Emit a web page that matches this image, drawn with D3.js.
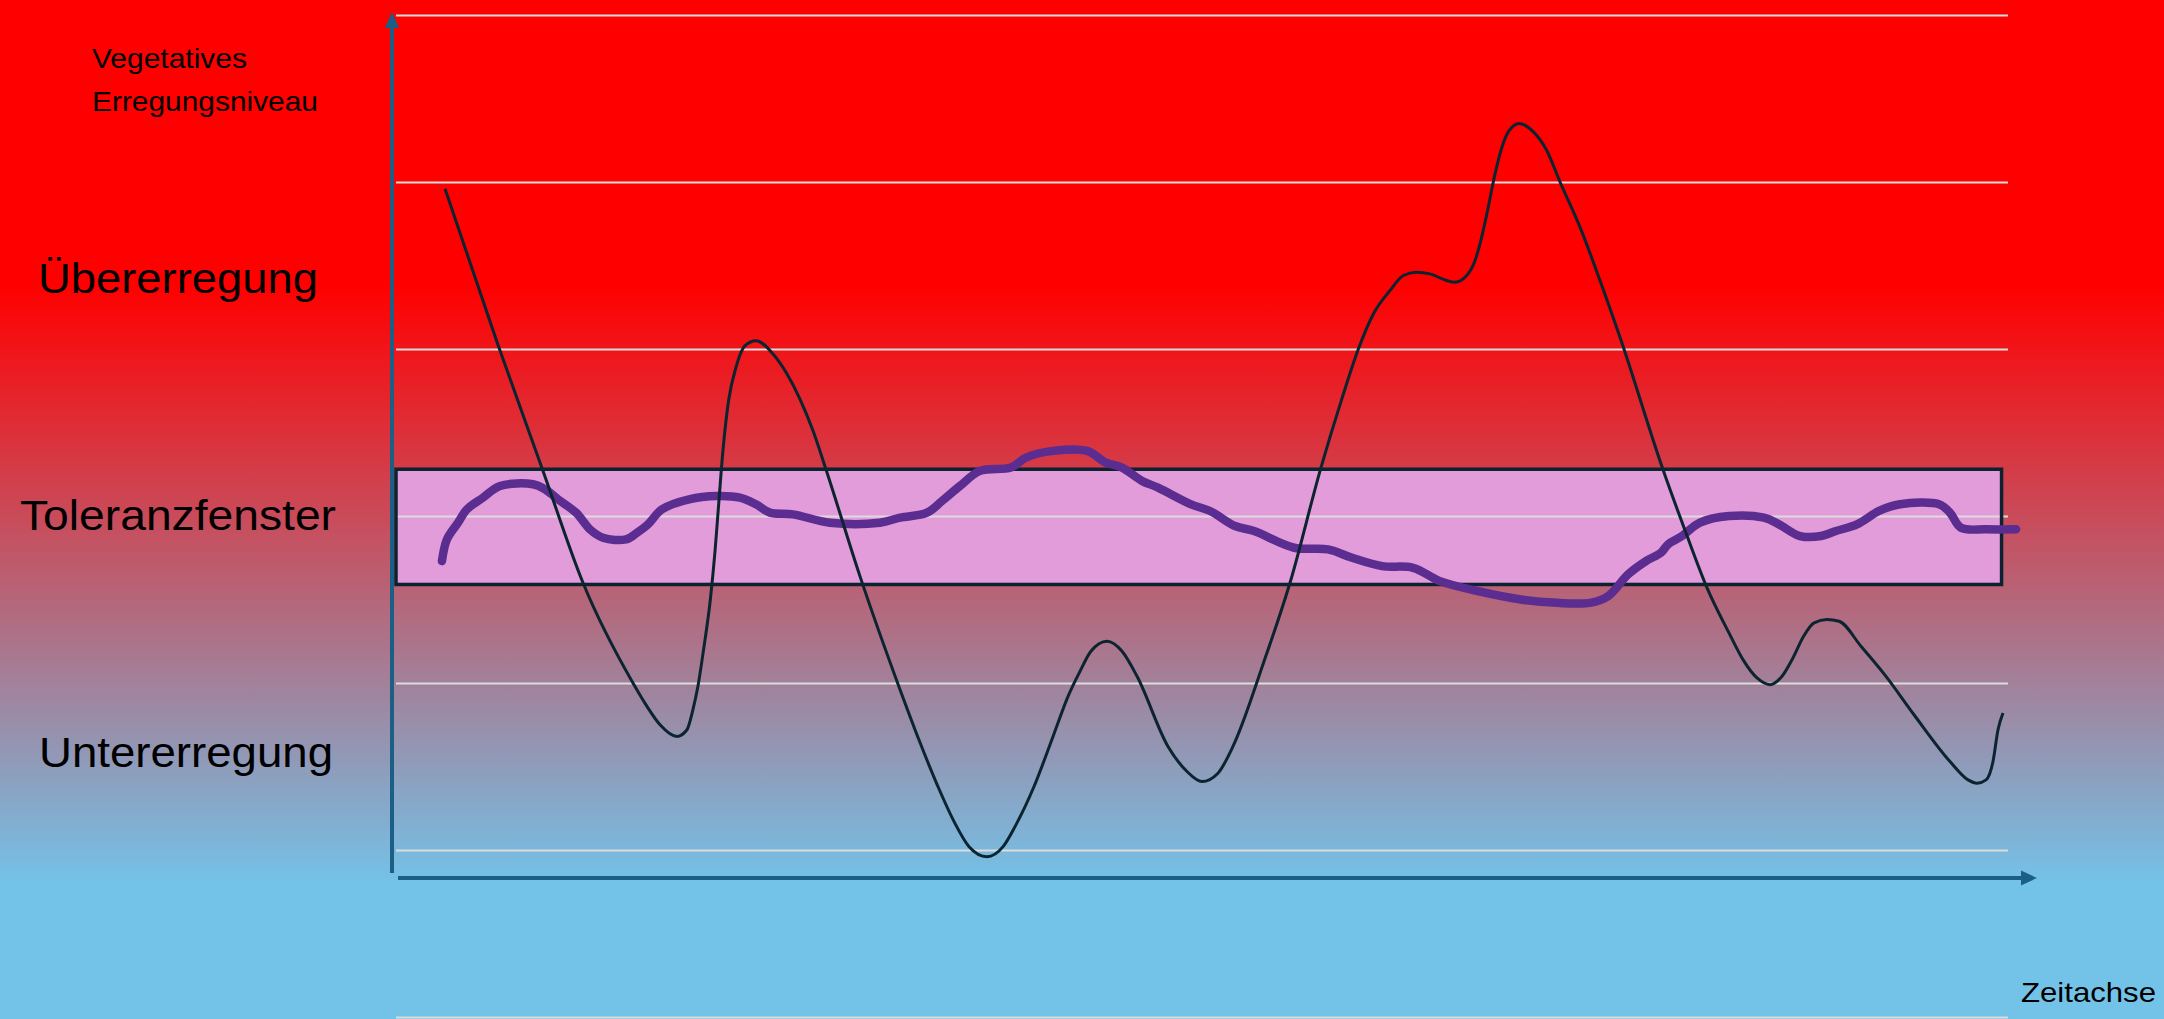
<!DOCTYPE html>
<html lang="de">
<head>
<meta charset="utf-8">
<title>Toleranzfenster</title>
<script src="https://cdn.jsdelivr.net/npm/d3@7"></script>
<style>
  html, body { margin: 0; padding: 0; background: #73c3e9; }
  svg { display: block; }
  text { font-family: "Liberation Sans", Arial, sans-serif; fill: #000; }
</style>
</head>
<body>
<svg id="chart" width="2164" height="1019"></svg>
<script>
// Gridline levels of the arousal scale
const gridLevels = [0, 1, 2, 3, 4, 5, 6];

// Window of tolerance: arousal band and its time span
const toleranceBand = [2.59, 3.28];
const toleranceSpan = [0, 99.6];

// Arousal without regulation (thin dark curve)
const arousalTime  = [3.04, 6.27, 9.12, 11.60, 14.70, 15.57, 16.38, 17.43, 18.05, 18.42, 18.73, 19.08, 19.50, 19.80, 20.04, 20.29, 20.63, 21.09, 21.65, 22.33, 23.39, 24.26, 25.06, 25.87, 26.67, 28.78, 31.27, 32.44, 33.62, 34.62, 35.55, 36.66, 37.66, 38.40, 39.58, 40.76, 41.69, 42.43, 43.11, 44.11, 45.04, 45.97, 47.89, 49.07, 50.00, 50.99, 51.92, 53.85, 55.46, 57.38, 58.67, 59.70, 60.63, 61.66, 62.49, 63.28, 64.14, 65.18, 65.69, 66.42, 66.94, 67.35, 67.76, 68.07, 68.49, 69.00, 69.68, 70.56, 71.38, 72.21, 73.45, 74.69, 75.93, 78.66, 80.02, 81.33, 82.69, 83.56, 84.43, 85.24, 85.98, 86.66, 87.32, 87.97, 88.77, 89.52, 90.88, 92.43, 94.17, 96.40, 97.52, 98.08, 98.64, 99.07, 99.38, 99.69];
const arousalLevel = [4.96, 4.04, 3.27, 2.60, 2.00, 1.86, 1.75, 1.68, 1.72, 1.84, 1.98, 2.20, 2.50, 2.80, 3.10, 3.40, 3.69, 3.89, 4.02, 4.05, 3.97, 3.85, 3.70, 3.51, 3.28, 2.64, 1.96, 1.66, 1.38, 1.17, 1.02, 0.96, 1.02, 1.14, 1.38, 1.68, 1.92, 2.07, 2.19, 2.25, 2.19, 2.04, 1.62, 1.47, 1.41, 1.46, 1.62, 2.13, 2.60, 3.29, 3.70, 4.00, 4.21, 4.35, 4.44, 4.46, 4.45, 4.41, 4.40, 4.44, 4.53, 4.67, 4.85, 5.00, 5.17, 5.30, 5.35, 5.30, 5.19, 5.00, 4.73, 4.41, 4.07, 3.26, 2.90, 2.57, 2.30, 2.14, 2.03, 1.99, 2.04, 2.15, 2.28, 2.36, 2.38, 2.37, 2.22, 2.04, 1.81, 1.53, 1.42, 1.40, 1.42, 1.53, 1.72, 1.82];

// Regulated arousal (thick purple curve)
const regulatedTime  = [2.85, 3.16, 3.85, 4.40, 5.40, 6.45, 8.50, 9.24, 10.05, 11.17, 12.03, 12.84, 14.27, 14.95, 15.63, 16.50, 18.18, 19.91, 21.34, 22.33, 23.20, 24.63, 26.92, 30.02, 31.27, 32.94, 33.87, 34.99, 36.23, 38.15, 39.08, 40.76, 42.87, 44.04, 45.04, 46.28, 47.27, 49.32, 50.50, 52.05, 53.23, 55.71, 57.82, 59.31, 61.17, 63.09, 64.76, 67.12, 69.79, 72.02, 74.07, 75.19, 76.43, 77.54, 78.47, 78.91, 79.78, 80.89, 82.69, 84.86, 85.79, 87.10, 88.40, 89.33, 90.63, 92.00, 93.30, 95.72, 96.40, 97.08, 98.64, 100.50];
const regulatedLevel = [2.73, 2.86, 2.96, 3.04, 3.11, 3.18, 3.19, 3.16, 3.10, 3.02, 2.92, 2.87, 2.86, 2.90, 2.95, 3.04, 3.10, 3.12, 3.11, 3.07, 3.02, 3.01, 2.96, 2.96, 2.99, 3.02, 3.09, 3.18, 3.27, 3.29, 3.35, 3.39, 3.39, 3.32, 3.29, 3.21, 3.17, 3.07, 3.03, 2.94, 2.91, 2.81, 2.80, 2.75, 2.70, 2.69, 2.61, 2.55, 2.50, 2.48, 2.48, 2.52, 2.65, 2.73, 2.78, 2.83, 2.88, 2.96, 3.00, 2.99, 2.95, 2.88, 2.88, 2.91, 2.95, 3.03, 3.07, 3.07, 3.02, 2.93, 2.92, 2.92];

// Texts
const axisTitleLines = ["Vegetatives", "Erregungsniveau"];
const zoneLabels = ["Übererregung", "Toleranzfenster", "Untererregung"];
const timeAxisTitle = "Zeitachse";

const svg = d3.select("#chart");
const W = 2164, H = 1019;

const x = d3.scaleLinear().domain([0, 100]).range([396, 2008]);
const y = d3.scaleLinear().domain([0, 6]).range([1017, 15]);

// Background: red at the top fading into light blue
const defs = svg.append("defs");
const grad = defs.append("linearGradient")
  .attr("id", "bg").attr("x1", 0).attr("y1", 0).attr("x2", 0).attr("y2", 1);
grad.append("stop").attr("offset", "0").attr("stop-color", "#ff0000");
grad.append("stop").attr("offset", "0.28").attr("stop-color", "#ff0000");
grad.append("stop").attr("offset", "0.87").attr("stop-color", "#73c3e9");
grad.append("stop").attr("offset", "1").attr("stop-color", "#73c3e9");
svg.append("rect").attr("width", W).attr("height", H).attr("fill", "url(#bg)");

// Window of tolerance fill
svg.append("rect")
  .attr("x", x(toleranceSpan[0]))
  .attr("y", y(toleranceBand[1]))
  .attr("width", x(toleranceSpan[1]) - x(toleranceSpan[0]))
  .attr("height", y(toleranceBand[0]) - y(toleranceBand[1]))
  .attr("fill", "#e29cda");

// Horizontal gridlines
const grid = svg.append("g")
  .attr("transform", `translate(${x(0)},0)`)
  .call(d3.axisRight(y).tickValues(gridLevels).tickSize(x(100) - x(0)).tickFormat(""));
grid.select(".domain").remove();
grid.selectAll(".tick line").attr("stroke", "#dcdcdc").attr("stroke-width", 2);

// Window of tolerance outline
svg.append("rect")
  .attr("x", x(toleranceSpan[0]))
  .attr("y", y(toleranceBand[1]))
  .attr("width", x(toleranceSpan[1]) - x(toleranceSpan[0]))
  .attr("height", y(toleranceBand[0]) - y(toleranceBand[1]))
  .attr("fill", "none")
  .attr("stroke", "#0b2330")
  .attr("stroke-width", 3.5);

// Axes with arrow heads
const axisColor = "#1c5f86";
svg.append("line").attr("x1", 392).attr("x2", 392).attr("y1", 873).attr("y2", 24)
  .attr("stroke", axisColor).attr("stroke-width", 4);
svg.append("path").attr("d", "M392,12 L385,28 L399,28 Z").attr("fill", axisColor);
svg.append("line").attr("x1", 398).attr("x2", 2024).attr("y1", 878).attr("y2", 878)
  .attr("stroke", axisColor).attr("stroke-width", 4);
svg.append("path").attr("d", "M2037,878 L2021,870.5 L2021,885.5 Z").attr("fill", axisColor);

// Curves
const regulatedLine = d3.line()
  .x(d => x(d[0]))
  .y(d => y(d[1]))
  .curve(d3.curveCatmullRom.alpha(0.5));

const arousalLine = d3.line()
  .x(d => x(d[0]))
  .y(d => y(d[1]))
  .curve(d3.curveMonotoneX);

svg.append("path")
  .datum(d3.zip(regulatedTime, regulatedLevel))
  .attr("d", regulatedLine)
  .attr("fill", "none")
  .attr("stroke", "#5b2d90")
  .attr("stroke-width", 8.5)
  .attr("stroke-linecap", "round")
  .attr("stroke-linejoin", "round");

svg.append("path")
  .datum(d3.zip(arousalTime, arousalLevel))
  .attr("d", arousalLine)
  .attr("fill", "none")
  .attr("stroke", "#0b2430")
  .attr("stroke-width", 3)
  .attr("stroke-linejoin", "round");

// Axis title
svg.append("text").attr("x", 92).attr("y", 68).attr("font-size", 28)
  .attr("textLength", 155).attr("lengthAdjust", "spacingAndGlyphs").text(axisTitleLines[0]);
svg.append("text").attr("x", 92).attr("y", 111).attr("font-size", 28)
  .attr("textLength", 226).attr("lengthAdjust", "spacingAndGlyphs").text(axisTitleLines[1]);

// Zone labels
const zoneLayout = [
  { x: 38, base: 293, len: 280 },
  { x: 20, base: 530, len: 316 },
  { x: 39, base: 767, len: 294 }
];
zoneLabels.forEach((t, i) => {
  svg.append("text")
    .attr("x", zoneLayout[i].x)
    .attr("y", zoneLayout[i].base)
    .attr("font-size", 42)
    .attr("textLength", zoneLayout[i].len)
    .attr("lengthAdjust", "spacingAndGlyphs")
    .text(t);
});

// Time axis title
svg.append("text").attr("x", 2021).attr("y", 1002).attr("font-size", 28)
  .attr("textLength", 135).attr("lengthAdjust", "spacingAndGlyphs").text(timeAxisTitle);
</script>
</body>
</html>
